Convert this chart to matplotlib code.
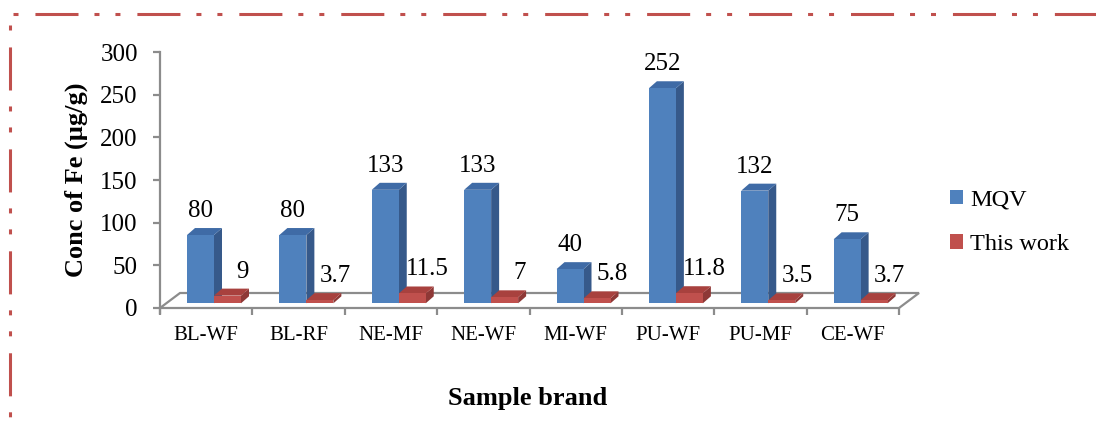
import matplotlib
matplotlib.use("Agg")
import matplotlib.pyplot as plt
from matplotlib.patches import Polygon, Patch
from matplotlib.lines import Line2D

# ---- data -------------------------------------------------------------
categories = ["BL-WF", "BL-RF", "NE-MF", "NE-WF", "MI-WF", "PU-WF", "PU-MF", "CE-WF"]
mqv = [80, 80, 133, 133, 40, 252, 132, 75]
this_work = [9, 3.7, 11.5, 7, 5.8, 11.8, 3.5, 3.7]
series_names = ["MQV", "This work"]
y_ticks = [0, 50, 100, 150, 200, 250, 300]

# ---- styling ----------------------------------------------------------
plt.rcParams["font.family"] = ["Liberation Serif", "DejaVu Serif"]
plt.rcParams["lines.scale_dashes"] = False

W, H = 1096, 425
DPI = 100
blue = dict(front="#4F81BD", side="#36598A", top="#3F6BA6")
red = dict(front="#C0504D", side="#8E3836", top="#A8413E")
grey = "#8C8C8C"

fig = plt.figure(figsize=(W / DPI, H / DPI), dpi=DPI, facecolor="white")

# plot area in pixels: x 160..899 for 8 categories, y 308 (0) .. 52 (300)
px_left, px_right, px_zero, px_top = 160, 899, 308, 52
ax = fig.add_axes([px_left / W, (H - px_zero) / H,
                   (px_right - px_left) / W, (px_zero - px_top) / H])
ax.set_xlim(0, len(categories))
ax.set_ylim(0, 300)
ax.set_facecolor("none")

ux = (px_right - px_left) / len(categories)   # pixels per category
uy = (px_zero - px_top) / 300.0                 # pixels per value unit

def px_x(p):
    return p / ux

def px_y(p):
    return p / uy

# 3-D projection offsets
floor_dx, floor_dy = px_x(20), px_y(15)
bar_dx, bar_dy = px_x(8), px_y(7)
base = px_y(4.7)
bar_w = px_x(27)
blue_off = px_x(27)

# floor outline
n = len(categories)
floor_pts = [(0, 0), (n, 0), (n + floor_dx, floor_dy), (floor_dx, floor_dy), (0, 0)]
ax.plot([p[0] for p in floor_pts], [p[1] for p in floor_pts], color=grey,
        lw=1.6, zorder=1, clip_on=False, solid_joinstyle="miter")


def draw_bar(x0, value, col, z):
    x1 = x0 + bar_w
    b, t = base, base + value
    side = [(x1, b), (x1 + bar_dx, b + bar_dy), (x1 + bar_dx, t + bar_dy), (x1, t)]
    top = [(x0, t), (x1, t), (x1 + bar_dx, t + bar_dy), (x0 + bar_dx, t + bar_dy)]
    front = [(x0, b), (x1, b), (x1, t), (x0, t)]
    for pts, c in ((side, col["side"]), (top, col["top"]), (front, col["front"])):
        ax.add_patch(Polygon(pts, closed=True, facecolor=c, edgecolor="none",
                             zorder=z, clip_on=False))
    return (x0 + x1) / 2, t


for i, (v1, v2) in enumerate(zip(mqv, this_work)):
    z = 3 + i * 2
    cx, t = draw_bar(i + blue_off, v1, blue, z)
    ax.annotate(f"{v1:g}", (cx, t), xytext=(0, 13), textcoords="offset points",
                ha="center", va="baseline", fontsize=18, zorder=30,
                annotation_clip=False)
    cx, t = draw_bar(i + blue_off + bar_w, v2, red, z + 1)
    ax.annotate(f"{v2:g}", (cx, t), xytext=(11, 13), textcoords="offset points",
                ha="center", va="baseline", fontsize=18, zorder=30,
                annotation_clip=False)

# axes: only the left spine, plus tick marks below the floor front edge
for s in ("top", "right", "bottom"):
    ax.spines[s].set_visible(False)
ax.spines["left"].set_color(grey)
ax.spines["left"].set_linewidth(1.6)
ax.spines["left"].set_bounds(-px_y(5), 300)

ax.set_yticks(y_ticks)
ax.set_yticklabels([str(t) for t in y_ticks])
ax.tick_params(axis="y", direction="out", length=5, width=1.6, color=grey,
               labelsize=18, pad=11)

ax.set_xticks([i + 0.5 for i in range(n)])
ax.set_xticklabels(categories)
ax.set_xticks(range(n + 1), minor=True)
ax.tick_params(axis="x", which="major", length=0, labelsize=15, pad=13)
ax.tick_params(axis="x", which="minor", direction="out", length=5,
               width=1.6, color=grey)

ax.set_xlabel("Sample brand", fontsize=19, fontweight="bold", va="center")
ax.xaxis.set_label_coords((528 - px_left) / (px_right - px_left),
                          (px_zero - 398) / (px_zero - px_top))
ax.set_ylabel("Conc of Fe (\u00b5g/g)", fontsize=19, fontweight="bold",
              va="center")
ax.yaxis.set_label_coords((76 - px_left) / (px_right - px_left),
                          (px_zero - 180) / (px_zero - px_top))

handles = [Patch(facecolor=blue["front"], edgecolor="none"),
           Patch(facecolor=red["front"], edgecolor="none")]
fig.legend(handles, series_names, loc="upper left",
           bbox_to_anchor=(940 / W, 1 - 180 / H), frameon=False,
           fontsize=17.5, handlelength=0.55, handleheight=0.55,
           handletextpad=0.3, labelspacing=0.95, borderaxespad=0)

# dash-dot-dot frame along the top and left of the figure
frame_dash = (0, [3.6, 12.2, 31.0, 11.5, 3.6, 11.5])
fig.add_artist(Line2D([13 / W, 1.02], [1 - 13.5 / H, 1 - 13.5 / H],
                      transform=fig.transFigure, color="#C0504D", lw=2.2,
                      linestyle=frame_dash, solid_capstyle="butt"))
fig.add_artist(Line2D([10 / W, 10 / W], [1 - 25 / H, -0.05],
                      transform=fig.transFigure, color="#C0504D", lw=2.2,
                      linestyle=frame_dash))

fig.savefig("out.png", dpi=DPI, facecolor="white")
